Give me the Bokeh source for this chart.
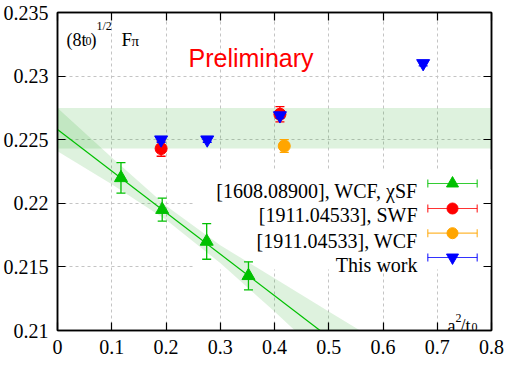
from bokeh.plotting import figure
from bokeh.models import (Range1d, FixedTicker, LinearAxis, Label, BoxAnnotation,
                          Whisker, TeeHead, ColumnDataSource)
from bokeh.embed import file_html
from bokeh.resources import INLINE

# ---------------- data ----------------
x_ticks = [0.0, 0.1, 0.2, 0.3, 0.4, 0.5, 0.6, 0.7, 0.8]
x_tick_labels = ["0", "0.1", "0.2", "0.3", "0.4", "0.5", "0.6", "0.7", "0.8"]
y_ticks = [0.21, 0.215, 0.22, 0.225, 0.23, 0.235]
y_tick_labels = ["0.21", "0.215", "0.22", "0.225", "0.23", "0.235"]

wcf_xsf_x = [0.117, 0.193, 0.275, 0.352]
wcf_xsf_y = [0.2220, 0.2195, 0.2170, 0.2143]
wcf_xsf_err = [0.0012, 0.0009, 0.0014, 0.0011]

swf_x = [0.191, 0.410]
swf_y = [0.2243, 0.2270]
swf_err = [0.0006, 0.0006]

wcf_x = [0.418]
wcf_y = [0.2245]
wcf_err = [0.0005]

this_x = [0.191, 0.276, 0.410, 0.674]
this_y = [0.2250, 0.2250, 0.2269, 0.2310]
this_err = [0.0002, 0.0002, 0.0002, 0.0002]

# linear continuum fit of the WCF, chiSF data and its error band
fit_x = [0.0, 0.484]
fit_y = [0.2258, 0.2100]
band_x = [0.0, 0.1, 0.2, 0.3, 0.4, 0.5, 0.6]
band_lo = [0.2241, 0.2215, 0.2187, 0.2153, 0.2115, 0.2075, 0.2036]
band_hi = [0.2275, 0.2236, 0.2198, 0.2167, 0.2141, 0.2115, 0.2089]

# continuum band
cont_lo = 0.2243
cont_hi = 0.2275

series_labels = ["[1608.08900], WCF, \u03c7SF", "[1911.04533], SWF",
                 "[1911.04533], WCF", "This work"]
series_colors = ["#00c000", "#ff0000", "#ffa500", "#0000ff"]
series_markers = ["triangle", "circle", "circle", "inverted_triangle"]
series_sizes = [13, 12, 12, 13]

SERIF = "Liberation Serif"
SANS = "Liberation Sans"

FW, FH = 434, 318   # frame size in px

# ---------------- figure ----------------
p = figure(frame_width=FW, frame_height=FH, x_range=Range1d(0, 0.8), y_range=Range1d(0.21, 0.235),
           output_backend="svg", toolbar_location=None, title=None,
           min_border_left=55, min_border_right=16, min_border_top=12, min_border_bottom=33)
p.background_fill_color = "white"
p.border_fill_color = "white"
p.outline_line_color = "black"
p.outline_line_width = 1.5
# pixel ranges for the key samples (frame-relative)
p.extra_x_ranges = {"keyx": Range1d(0, FW)}
p.extra_y_ranges = {"keyy": Range1d(0, FH)}

xt = FixedTicker(ticks=x_ticks)
yt = FixedTicker(ticks=y_ticks)

for ax, t, labs in ((p.xaxis[0], xt, x_tick_labels), (p.yaxis[0], yt, y_tick_labels)):
    ax.ticker = t
    ax.major_label_overrides = dict(zip(t.ticks, labs))
    ax.major_label_text_font = SERIF
    ax.major_label_text_font_size = "20px"
    ax.major_label_text_color = "black"
    ax.major_tick_in = 8
    ax.major_tick_out = 0
    ax.minor_tick_line_color = None
    ax.axis_line_color = "black"
    ax.axis_line_width = 1.5
    ax.major_tick_line_width = 1.2
p.xaxis[0].major_label_standoff = 9
p.yaxis[0].major_label_standoff = 9

# mirrored ticks on top and right (no labels)
for loc, t in (("above", xt), ("right", yt)):
    ax = LinearAxis(ticker=t, major_label_text_color=None, major_label_standoff=0,
                    major_tick_in=8, major_tick_out=0, minor_tick_line_color=None,
                    axis_line_color="black", axis_line_width=1.5, major_tick_line_width=1.2)
    p.add_layout(ax, loc)

for g, t in ((p.xgrid[0], xt), (p.ygrid[0], yt)):
    g.ticker = t
    g.grid_line_color = "#c4c4c4"
    g.grid_line_dash = "3 3"
    g.grid_line_width = 1

# opaque key box hides the grid (screen units relative to the frame)
p.add_layout(BoxAnnotation(left=137, right=FW, top=161, bottom=61,
                           left_units="screen", right_units="screen",
                           top_units="screen", bottom_units="screen",
                           fill_color="white", fill_alpha=1.0, line_alpha=0,
                           level="underlay"))

# continuum band
p.add_layout(BoxAnnotation(bottom=cont_lo, top=cont_hi, fill_color="#22a822",
                           fill_alpha=0.15, line_alpha=0, level="underlay"))

# fit band + line
p.varea(x=band_x, y1=band_lo, y2=band_hi, fill_color="#22a822", fill_alpha=0.15)
p.line(fit_x, fit_y, line_color="#00c000", line_width=1.2)

# data series
series = [(wcf_xsf_x, wcf_xsf_y, wcf_xsf_err), (swf_x, swf_y, swf_err),
          (wcf_x, wcf_y, wcf_err), (this_x, this_y, this_err)]
for (xs, ys, es), col, mk, sz in zip(series, series_colors, series_markers, series_sizes):
    lo = [y - e for y, e in zip(ys, es)]
    hi = [y + e for y, e in zip(ys, es)]
    src = ColumnDataSource(dict(x=xs, y=ys, lo=lo, hi=hi))
    p.segment(x0="x", y0="lo", x1="x", y1="hi", source=src, line_color=col, line_width=1.3)
    p.scatter(x="x", y="lo", source=src, marker="dash", size=9, line_color=col, line_width=1.3)
    p.scatter(x="x", y="hi", source=src, marker="dash", size=9, line_color=col, line_width=1.3)
    p.scatter(x="x", y="y", source=src, marker=mk, size=sz, fill_color=col, line_color=col)

# ---------------- key ----------------
row_base = [147, 122, 97.3, 73]        # px above frame bottom of each key row
text_base = [139.7, 115.3, 89.7, 65.3]
for lab, col, mk, sz, yb, ytx in zip(series_labels, series_colors, series_markers,
                                     series_sizes, row_base, text_base):
    p.add_layout(Label(x=360, y=ytx, x_units="screen", y_units="screen", text=lab,
                       text_font=SERIF, text_font_size="20px", text_color="black",
                       text_align="right", text_baseline="alphabetic"))
    wsrc = ColumnDataSource(dict(base=[yb], lower=[370.3], upper=[419.7]))
    p.add_layout(Whisker(source=wsrc, base="base", lower="lower", upper="upper",
                         dimension="width", base_units="screen", lower_units="screen",
                         upper_units="screen", line_color=col, line_width=1.2, line_alpha=0.8,
                         lower_head=TeeHead(size=8, line_color=col, line_width=1.2, line_alpha=0.8),
                         upper_head=TeeHead(size=8, line_color=col, line_width=1.2, line_alpha=0.8)))
    p.scatter(x=[395], y=[yb], x_range_name="keyx", y_range_name="keyy",
              marker=mk, size=sz - 1, fill_color=col, line_color=col, level="overlay")

# ---------------- annotations ----------------
def lab(text, x, y, size, font=SERIF, color="black"):
    p.add_layout(Label(x=x, y=y, x_units="screen", y_units="screen", text=text,
                       text_font=font, text_font_size=size, text_color=color,
                       text_align="left", text_baseline="alphabetic"))

lab("(8t", 9, 290.7, "18px")
lab("0", 28, 289.7, "12px")
lab(")", 33, 290.7, "18px")
lab("1/2", 39, 305, "12px")
lab("F", 64, 290.7, "19px")
lab("\u03c0", 74, 289.2, "15px")

lab("Preliminary", 131, 273, "25px", font=SANS, color="#ff0000")

lab("a", 390, 4.7, "18px")
lab("2", 398, 13, "12px")
lab("/t", 403, 4.7, "18px")
lab("0", 414, 3.5, "12px")

open("out.html", "w").write(file_html(p, INLINE))
